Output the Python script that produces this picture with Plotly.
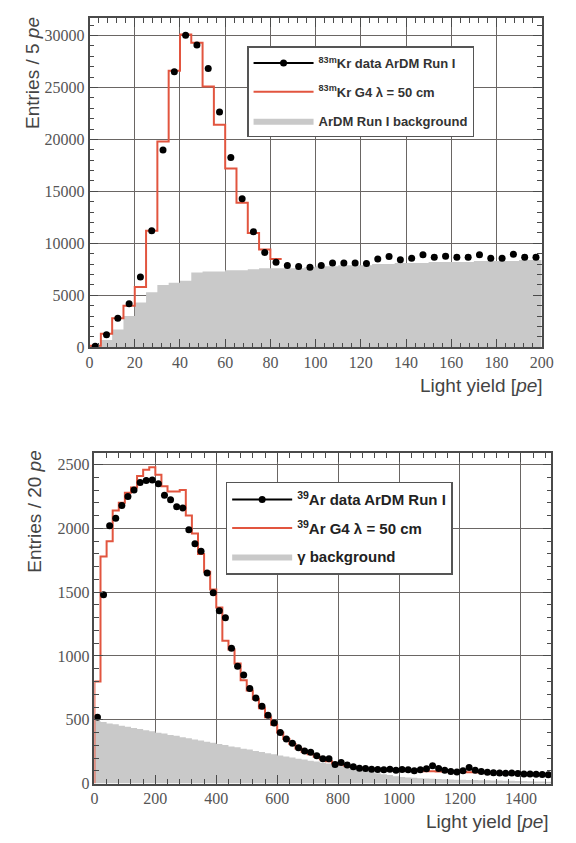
import plotly.graph_objects as go

# ---------------- Top panel: 83mKr (5 pe bins) ----------------
kr_bin_width = 5
kr_data = [100, 1210, 2790, 4190, 6760, 11200, 18980, 26500, 30030, 29080,
           26830, 22640, 18260, 14300, 11110, 9110, 8190, 7870, 7780, 7710,
           7870, 8100, 8100, 8100, 8050, 8500, 8730, 8410, 8570, 8890,
           8670, 8760, 8670, 8670, 8890, 8570, 8570, 8950, 8670, 8670]
kr_g4 = [150, 1300, 2800, 4000, 5800, 11200, 19800, 26600, 30100, 29300,
         25100, 21400, 17200, 13900, 11000, 9400, 8500]
kr_bkg = [150, 700, 1700, 3000, 4300, 5300, 6000, 6200, 6400, 7200,
          7300, 7300, 7400, 7400, 7500, 7600, 7600, 7600, 7600, 7700,
          7800, 7800, 7900, 7900, 7900, 8000, 8000, 8100, 8100, 8100,
          8200, 8200, 8200, 8200, 8300, 8300, 8300, 8300, 8400, 8400]

# ---------------- Bottom panel: 39Ar (20 pe bins) ----------------
ar_bin_width = 20
ar_data = [520, 1480, 2020, 2080, 2180, 2250, 2300, 2360, 2375, 2380,
           2350, 2260, 2225, 2170, 2160, 1990, 1880, 1820, 1650, 1495,
           1355, 1300, 1060, 920, 850, 745, 670, 605, 535, 475,
           400, 350, 315, 280, 255, 245, 218, 195, 195, 150,
           165, 145, 132, 120, 118, 112, 110, 108, 112, 105,
           110, 108, 100, 108, 115, 140, 118, 105, 95, 90,
           100, 125, 105, 95, 88, 85, 82, 80, 82, 78,
           75, 75, 72, 70, 68]
ar_g4 = [800, 1780, 1900, 2140, 2200, 2280, 2320, 2410, 2460, 2480,
         2420, 2330, 2290, 2290, 2300, 2100, 1960, 1800, 1660, 1520,
         1380, 1120, 1050, 940, 810, 730, 660, 590, 520, 460,
         400, 350, 310, 275, 250, 230, 210, 190, 175, 160,
         150, 140, 130, 122, 116, 112, 108, 106, 104, 102,
         100, 100, 98, 98, 96, 96, 95, 94, 92, 90,
         90, 88, 88, 86, 85, 84, 82, 81, 80, 78,
         77, 76, 74, 73, 72]
ar_bkg = [490, 482, 471, 464, 453, 446, 435, 428, 417, 410,
          399, 392, 381, 374, 363, 356, 345, 338, 327, 320,
          309, 302, 291, 284, 273, 266, 255, 248, 237, 230,
          220, 211, 205, 195, 189, 179, 173, 163, 157, 147,
          140, 130, 121, 110, 101, 90, 81, 72, 66, 58,
          52, 48, 45, 42, 40, 38, 36, 34, 32, 30,
          29, 28, 27, 26, 25, 24, 23, 22, 21, 20,
          19, 18, 17, 16, 15]

kr_xticks = [0, 20, 40, 60, 80, 100, 120, 140, 160, 180, 200]
kr_yticks = [0, 5000, 10000, 15000, 20000, 25000, 30000]
ar_xticks = [0, 200, 400, 600, 800, 1000, 1200, 1400]
ar_yticks = [0, 500, 1000, 1500, 2000, 2500]

kr_labels = ["<b><sup>83m</sup>Kr data ArDM Run I</b>",
             "<b><sup>83m</sup>Kr G4 λ = 50 cm</b>",
             "<b>ArDM Run I background</b>"]
ar_labels = ["<b><sup>39</sup>Ar data ArDM Run I</b>",
             "<b><sup>39</sup>Ar G4 λ = 50 cm</b>",
             "<b>γ background</b>"]


def centers(vals, w):
    return [w * (i + 0.5) for i in range(len(vals))]


def step_xy(vals, w):
    xs = [w * i for i in range(len(vals))] + [w * len(vals)]
    ys = list(vals) + [vals[-1]]
    return xs, ys


RED = "#e2553f"
GRAY = "#c9c9c9"
W, H = 576, 843

fig = go.Figure()


def legend_data_entry(xa, ya, legend, label, msize):
    fig.add_trace(go.Scatter(x=[None], y=[None], mode="lines+markers",
                             marker=dict(color="black", size=msize),
                             line=dict(color="black", width=2),
                             name=label, xaxis=xa, yaxis=ya, legend=legend,
                             legendgroup=legend + "a", legendrank=1))


def bkg_trace(xa, ya, legend, bkg, w, label):
    bx, by = step_xy(bkg, w)
    return go.Scatter(x=bx, y=by, mode="lines", line=dict(width=0, shape="hv"),
                      fill="tozeroy", fillcolor=GRAY, name=label,
                      xaxis=xa, yaxis=ya, legend=legend,
                      legendgroup=legend + "c", legendrank=3)


def g4_trace(xa, ya, legend, g4, w, label):
    gx, gy = step_xy(g4, w)
    return go.Scatter(x=[0] + gx, y=[0] + gy, mode="lines",
                      line=dict(color=RED, width=2, shape="hv"),
                      name=label, xaxis=xa, yaxis=ya, legend=legend,
                      legendgroup=legend + "b", legendrank=2)


legend_data_entry("x", "y", "legend", kr_labels[0], 7)
legend_data_entry("x2", "y2", "legend2", ar_labels[0], 7)

# drawing order: background fill, G4 line, data markers
fig.add_trace(bkg_trace("x", "y", "legend", kr_bkg, kr_bin_width, kr_labels[2]))
fig.add_trace(bkg_trace("x2", "y2", "legend2", ar_bkg, ar_bin_width, ar_labels[2]))
fig.add_trace(g4_trace("x", "y", "legend", kr_g4, kr_bin_width, kr_labels[1]))
fig.add_trace(g4_trace("x2", "y2", "legend2", ar_g4, ar_bin_width, ar_labels[1]))
fig.add_trace(go.Scatter(x=centers(kr_data, kr_bin_width), y=kr_data, mode="markers",
                         marker=dict(color="black", size=7), showlegend=False,
                         xaxis="x", yaxis="y"))
fig.add_trace(go.Scatter(x=centers(ar_data, ar_bin_width), y=ar_data, mode="markers",
                         marker=dict(color="black", size=7), showlegend=False,
                         xaxis="x2", yaxis="y2"))

tickfont = dict(family="Liberation Serif", size=16, color="#555555")
axis_common = dict(showline=True, linecolor="#4a4a4a", linewidth=1.5, mirror="allticks",
                   ticks="inside", ticklen=9, tickcolor="#4a4a4a", tickwidth=1,
                   showgrid=True, gridcolor="#6a6664", gridwidth=1, zeroline=False,
                   tickfont=tickfont)

fig.update_layout(
    width=W, height=H, margin=dict(l=0, r=0, t=0, b=0),
    paper_bgcolor="white", plot_bgcolor="white", showlegend=True,
    xaxis=dict(domain=[88 / W, 553 / W], range=[0, 200], anchor="y",
               tickvals=kr_xticks, ticktext=[str(v) for v in kr_xticks],
               minor=dict(ticks="inside", ticklen=5, dtick=4, tickcolor="#4a4a4a", showgrid=False),
               **axis_common),
    yaxis=dict(domain=[1 - 351 / H, 1 - 18 / H], range=[0, 31700], anchor="x",
               tickvals=kr_yticks, ticktext=[str(v) for v in kr_yticks],
               minor=dict(ticks="inside", ticklen=5, dtick=1000, tickcolor="#4a4a4a", showgrid=False),
               **axis_common),
    xaxis2=dict(domain=[93 / W, 563 / W], range=[0, 1500], anchor="y2",
                tickvals=ar_xticks, ticktext=[str(v) for v in ar_xticks],
                minor=dict(ticks="inside", ticklen=5, dtick=40, tickcolor="#4a4a4a", showgrid=False),
                **axis_common),
    yaxis2=dict(domain=[1 - 792 / H, 1 - 458 / H], range=[0, 2590], anchor="x2",
                tickvals=ar_yticks, ticktext=[str(v) for v in ar_yticks],
                minor=dict(ticks="inside", ticklen=5, dtick=100, tickcolor="#4a4a4a", showgrid=False),
                **axis_common),
    legend=dict(x=250 / W, y=1 - 47 / H, xanchor="left", yanchor="top",
                bgcolor="white", bordercolor="#555555", borderwidth=1.5,
                font=dict(family="Liberation Sans", size=13, color="#333333"),
                tracegroupgap=9, itemwidth=60, traceorder="grouped"),
    legend2=dict(x=228 / W, y=1 - 487 / H, xanchor="left", yanchor="top",
                 bgcolor="white", bordercolor="#555555", borderwidth=1.5,
                 font=dict(family="Liberation Sans", size=15, color="#222222"),
                 tracegroupgap=6, itemwidth=60, traceorder="grouped"),
)

title_font = dict(family="Liberation Sans", size=19, color="#444444")
fig.add_annotation(text="Entries / 5 <i>pe</i>", x=30 / W, y=1 - 15 / H, xref="paper", yref="paper",
                   textangle=-90, xanchor="center", yanchor="top", showarrow=False, font=title_font)
fig.add_annotation(text="Entries / 20 <i>pe</i>", x=32 / W, y=1 - 453 / H, xref="paper", yref="paper",
                   textangle=-90, xanchor="center", yanchor="top", showarrow=False, font=title_font)
fig.add_annotation(text="Light yield [<i>pe</i>]", x=556 / W, y=1 - 390 / H, xref="paper", yref="paper",
                   xanchor="right", yanchor="middle", showarrow=False, font=title_font)
fig.add_annotation(text="Light yield [<i>pe</i>]", x=563 / W, y=1 - 830 / H, xref="paper", yref="paper",
                   xanchor="right", yanchor="middle", showarrow=False, font=title_font)

fig.write_html("out.html")
